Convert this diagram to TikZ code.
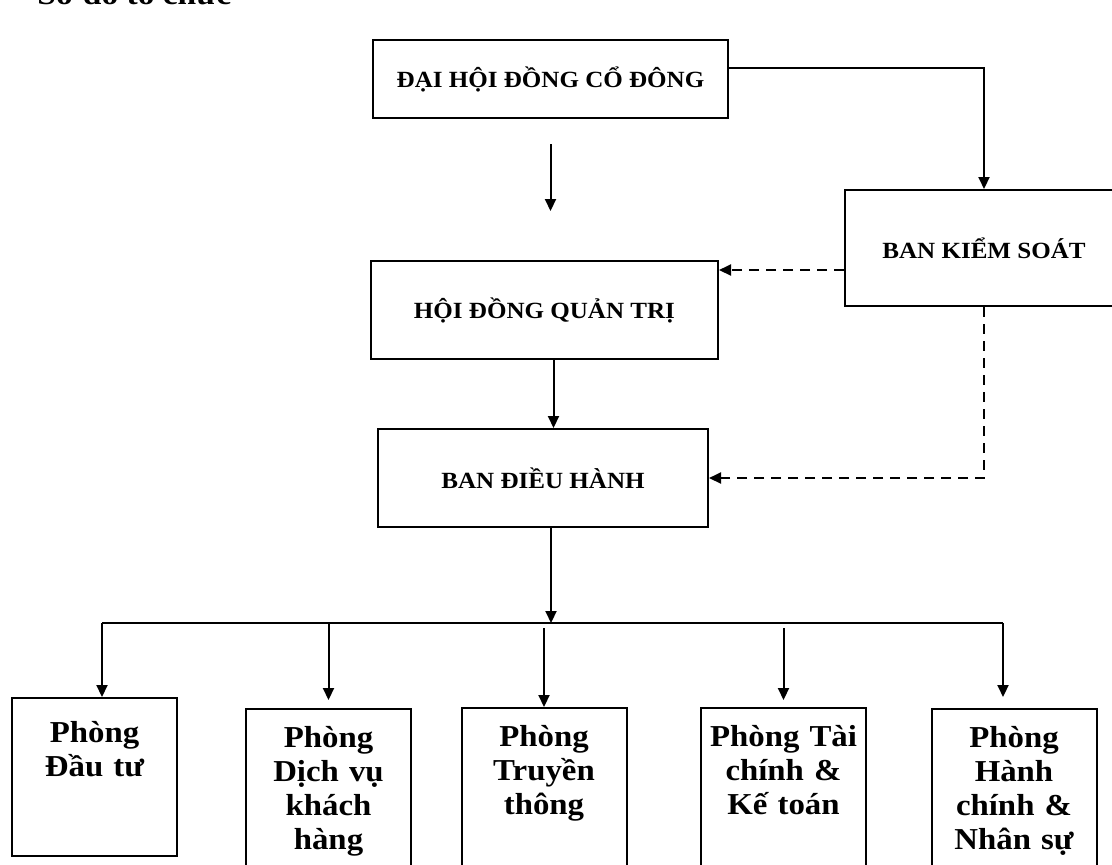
\documentclass[tikz,border=0pt]{standalone}
\usepackage{fontspec}
\setmainfont{Liberation Serif}[FakeStretch=1.08]
\usetikzlibrary{arrows.meta}

\begin{document}
\begin{tikzpicture}[x=0.5pt, y=-0.5pt,
    box/.style={draw, line width=1pt, inner sep=0pt,
        font=\bfseries\fontsize{11.6}{14}\selectfont},
    dept/.style={draw, line width=1pt, anchor=north, align=center,
        text width=80pt, inner xsep=1.25pt, inner ysep=0pt,
        text height=19pt, text depth=62pt,
        font=\bfseries\fontsize{15.2}{17}\selectfont},
    arr/.style={line width=1pt, -{Triangle[length=6pt, width=5.5pt]}},
    dasharr/.style={arr, dash pattern=on 5pt off 3.5pt}]
    \useasboundingbox (0, 0) rectangle (1112, 864);

    % Title (cut at the top)
    \node[anchor=base west, inner sep=0pt, font=\bfseries\fontsize{15.5}{17}\selectfont]
        (title) at (37, 4) {Sơ đồ tổ chức};

    % Upper boxes
    \node[box, minimum width=177.5pt, minimum height=39pt] (dhd) at (550.5, 79) {ĐẠI HỘI ĐỒNG CỔ ĐÔNG};
    \node[box, minimum width=139pt, minimum height=58pt] (bks) at (984, 248) {BAN KIỂM SOÁT};
    \node[box, minimum width=173.5pt, minimum height=49pt] (hdqt) at (544.5, 310) {HỘI ĐỒNG QUẢN TRỊ};
    \node[box, minimum width=165pt, minimum height=49pt] (bdh) at (543, 478) {BAN ĐIỀU HÀNH};

    % Departments
    \node[dept, text height=22pt, text depth=57pt] (dt) at (94.5, 697) {Phòng\\Đầu tư};
    \node[dept] (dv) at (328.5, 708) {Phòng\\Dịch vụ\\khách\\hàng};
    \node[dept] (tt) at (544, 707) {Phòng\\Truyền\\thông};
    \node[dept] (tc) at (783.5, 707) {Phòng Tài\\chính \&\\Kế toán};
    \node[dept] (hc) at (1014, 708) {Phòng\\Hành\\chính \&\\Nhân sự};

    % Arrows between upper boxes
    \draw[arr, shorten <=12.5pt, shorten >=24.5pt] (dhd.south) -- (dhd.south |- hdqt.north);
    \draw[arr] ([yshift=5.5pt]dhd.east) -| (bks.north);
    \draw[arr] ([xshift=4.5pt]hdqt.south) -- ([xshift=4.5pt]hdqt.south |- bdh.north);

    % Control lines (dashed)
    \coordinate (kq) at ([yshift=-11pt]bks.west);
    \draw[dasharr] (kq) -- (kq -| hdqt.east);
    \draw[dasharr] (bks.south) |- (bdh.east);

    % Bus to the departments
    \coordinate (bus) at (551, 623);
    \coordinate (dtin) at ([xshift=3.75pt]dt.north);
    \coordinate (hcin) at ([xshift=-5.5pt]hc.north);
    \draw[arr] (bdh.south -| bus) -- (bus);
    \draw[line width=1pt] (dtin |- bus) -- (hcin |- bus);
    \draw[arr] (dtin |- bus) -- (dtin);
    \draw[arr, shorten >=4pt] (dv.north |- bus) -- (dv.north);
    \draw[arr, shorten <=2.5pt] (tt.north |- bus) -- (tt.north);
    \draw[arr, shorten <=2.5pt, shorten >=3.5pt] (tc.north |- bus) -- (tc.north);
    \draw[arr, shorten >=5.5pt] (hcin |- bus) -- (hcin);
\end{tikzpicture}
\end{document}
